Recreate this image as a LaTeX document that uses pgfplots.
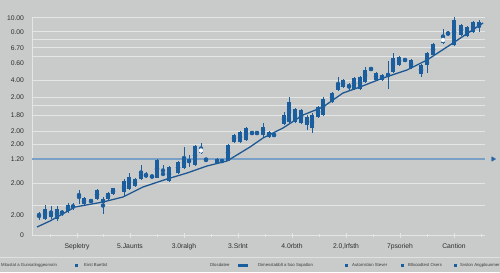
\documentclass[border=0pt]{standalone}
\usepackage{pgfplots}
\pgfplotsset{compat=1.18}
\usepackage{pgfplotstable}
\usepackage{fontspec}
\setmainfont{Liberation Sans}
\usetikzlibrary{backgrounds}
\definecolor{bgc}{HTML}{C9CACA}
\definecolor{gridc}{HTML}{E4E5E5}
\definecolor{cblue}{HTML}{1B5E9D}
\definecolor{tblue}{HTML}{1E5892}
\definecolor{hblue}{HTML}{7AA0C6}
\definecolor{triblue}{HTML}{2466A8}
\definecolor{txt}{HTML}{2E2E2E}
\definecolor{ltxt}{HTML}{3A3A3A}

\pgfplotstableread{
x bl bh wl wh
39 19 21 15 23
45 16 26 15 30
51 18 22 16 29
57 16 26 14 29
62 21 24 19 25
68 24 30 22 32
73 27 30 25 32
79 39 41 31 45
84 31 37 30 38
91 33.5 34.5 33 35
97 36 45 35 46
103 32 36 21 38
108 36 42 35 43
113 41 47 40 47
124 43 54 38 56
129 46 58 45 62
135 49 56 48 57
141 56 64 55 70
146 59 60 57 63
152 58 59 57 60
157 57 75 57 76
163 60.5 61.5 59 70
169 54 68 53 69
178 62 73 61 74
184 67 78 66 88
189 73.5 74.5 68 80
195 70 89 69 90
206 74.5 75.5 74 77
217 72 76 71 77
222 73 75 73 75
228 74 90 74 91
234 93 100 92 101
240 93 103 92 104
246 95 107 94 108
252 101.5 102.5 100 104
257 101.5 102.5 100 104
263 100 108 98 112
269 98 103 97 104
274 99.5 100.5 99 101
284 111 120 110 123
289 113 133 112 138
295 113 126 112 127
301 112 125 111 126
307 110 118 105 120
312 107 120 102 122
318 118 128 117 129
323 120 136 119 138
332 133 142 132 143
338 145 152 144 158
343 148 155 147 156
349 148.5 149.5 145 152
354 146 157 145 158
360 146 158 145 159
365 153 165 152 168
371 165 167 164 168
376 155 162 154 163
382 155 160 154 161
388 159 161 146 174
393 163 177 162 182
399 170 178 169 179
405 174.5 175.5 173 177
411 167 175 166 176
421 161 170 158 171
427 170 182 162 183
433 180 191 179 192
448 200 203 199 204
454 190 215 189 218
461 200 210 199 211
467 199 208 198 209
473 203 213 202 214
479 208 213 203 215
}\candles

\pgfplotstableread{
x bl bh wl wh
201 82 87 81 92
443 192 198 191 206
}\hollow

\pgfplotstableread{
x y
37 8
50 14
75 28
103 33
123 38
143 48
167 56
187 62
207 69
227 74
250 88
263 97
283 107
303 120
323 128
343 142
360 148
383 157
407 165
427 175
450 190
483 212
}\trend

\pgfplotsset{
  candle/.style n args={2}{color=#1, only marks, mark=none, forget plot,
    error bars/.cd, y dir=both, y explicit, error mark=none,
    error bar style={color=#1, line width=#2, line cap=butt}},
}

\begin{document}
\begin{tikzpicture}
\begin{axis}[
  x=1bp, y=1bp,
  xmin=32, xmax=485, ymin=0, ymax=218,
  scale only axis,
  axis x line*=bottom, axis y line*=left,
  axis line style={draw=gridc, line width=0.8pt, -},
  clip=false,
  xtick={77,130,184,238,292,346,400,454},
  xticklabels={Sepletry,5.Jaunts,3.0ralgh,3.Srlnt,4.0rbth,{2.0,lrfsth},7psorieh,Cantion},
  minor xtick={50,103,157,211,265,319,373,427,481},
  tick align=center,
  major tick length=5bp, minor tick length=3bp,
  xtick style={draw=gridc, line width=0.6pt},
  xticklabel style={font=\fontsize{6.8}{7}\selectfont, text=txt, yshift=-3bp},
  ytick={0,20,52,76,91,104,120,138,155,172,187,203,217},
  yticklabels={0,2.00,2.00,1.20,2.00,2.00,1.80,2.00,4.00,0.60,6.70,0.00,10.00},
  ytick style={draw=none},
  yticklabel style={font=\fontsize{6.8}{7}\selectfont, text=txt, xshift=-2bp},
  extra y ticks={30,52,91,104,120,130,138,155,179,188,196,204,218},
  extra y tick labels={},
  extra y tick style={grid=major, major grid style={draw=gridc, line width=0.7pt}},
]
% horizontal reference line
\addplot[color=hblue, line width=1.2pt, mark=none] coordinates {(32,76) (485,76)};
\addplot[color=triblue, only marks, mark=triangle*, mark size=2.6, mark options={rotate=-90, fill=triblue, draw=triblue}] coordinates {(493,76)};
% trend line
\addplot[color=tblue, line width=1.3pt, mark=none] table[x=x,y=y]{\trend};
% wicks
\addplot[candle={cblue}{0.7pt}]
  table[x=x, y expr=(\thisrow{wl}+\thisrow{wh})/2, y error expr=(\thisrow{wh}-\thisrow{wl})/2]{\candles};
\addplot[candle={cblue}{0.7pt}]
  table[x=x, y expr=(\thisrow{wl}+\thisrow{wh})/2, y error expr=(\thisrow{wh}-\thisrow{wl})/2]{\hollow};
% bodies
\addplot[candle={cblue}{4.4bp}]
  table[x=x, y expr=(\thisrow{bl}+\thisrow{bh})/2, y error expr=(\thisrow{bh}-\thisrow{bl})/2]{\candles};
\addplot[candle={cblue}{4.4bp}]
  table[x=x, y expr=(\thisrow{bl}+\thisrow{bh})/2, y error expr=(\thisrow{bh}-\thisrow{bl})/2]{\hollow};
\addplot[candle={white}{2.8bp}]
  table[x=x, y expr=(\thisrow{bl}+\thisrow{bh})/2, y error expr=(\thisrow{bh}-\thisrow{bl})/2-0.8]{\hollow};

% legend row
\draw[draw=gridc!80!bgc, line width=0.8pt] (axis cs:0,-22) -- (axis cs:500,-22);
\begin{scope}[every node/.style={font=\fontsize{4.3}{5}\selectfont, text=ltxt, anchor=west, inner sep=0pt}]
\node at (axis cs:1,-30) {Mitustat a Gunsatinggeonsrin};
\fill[cblue] (axis cs:74.8,-31.6) rectangle (axis cs:77.6,-28.6);
\node at (axis cs:84,-30) {Eirst Buettst};
\node at (axis cs:210,-30) {Dlosdatee};
\fill[cblue] (axis cs:238,-31.8) rectangle (axis cs:248,-28.6);
\node at (axis cs:258,-30) {Dimesstabblt a 5oo Sopatlon};
\fill[cblue] (axis cs:345,-31.6) rectangle (axis cs:347.6,-28.6);
\node at (axis cs:352,-30) {Automstion Stever};
\fill[cblue] (axis cs:401,-31.6) rectangle (axis cs:403.6,-28.6);
\node at (axis cs:408,-30) {Bltsoodtest Osers};
\fill[cblue] (axis cs:454,-31.6) rectangle (axis cs:456.6,-28.6);
\node at (axis cs:460,-30) {Svslon Angplounmer};
\end{scope}
\coordinate (bgbl) at (axis cs:0,-37);
\coordinate (bgtr) at (axis cs:500,235);
\end{axis}
\begin{scope}[on background layer]
\fill[bgc] (bgbl) rectangle (bgtr);
\end{scope}
\pgfresetboundingbox
\path[use as bounding box] (bgbl) rectangle (bgtr);
\end{tikzpicture}
\end{document}
